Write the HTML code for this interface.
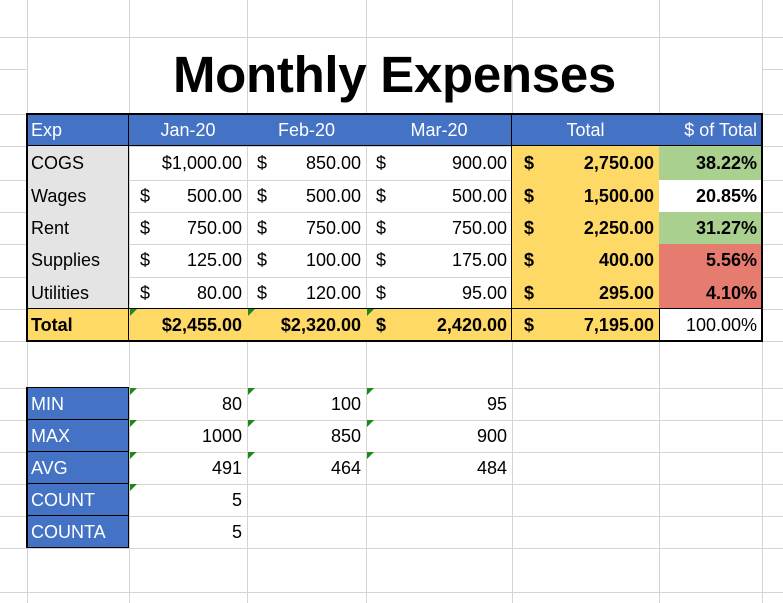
<!DOCTYPE html>
<html><head><meta charset="utf-8"><style>
body{margin:0;width:783px;height:603px;overflow:hidden;background:#fff;font-family:"Liberation Sans",sans-serif;position:relative}
.g{position:absolute;background:#d4d4d4}
.c{position:absolute;box-sizing:border-box;font-size:18px;line-height:32px;white-space:pre;color:#000;overflow:visible}
.r{text-align:right;padding-right:5px}
.l{padding-left:4px}
.b{font-weight:bold}
.w{color:#fff}
.bd{position:absolute;background:#000}
.tri{position:absolute;width:0;height:0;border-top:7px solid #1a8a1a;border-right:7px solid transparent}
</style></head><body>
<div id="grid"></div>
<div class="c b" style="left:27px;top:43px;width:735px;text-align:center;font-size:51px;line-height:64px;letter-spacing:-0.3px">Monthly Expenses</div>
<div id="cells"></div>
<script>
const cols=[27,129,247,366,512,659,762];
const hRows=[37,114,146,180,212,244,277,309,341,388,420,452,484,516,548,592];
const rowNames=["COGS","Wages","Rent","Supplies","Utilities"];
const jan=[1000,500,750,125,80];
const feb=[850,500,750,100,120];
const mar=[900,500,750,175,95];
const pctColors=["#a9d08e","#ffffff","#a9d08e","#e67c70","#e67c70"];
const statNames=["MIN","MAX","AVG","COUNT","COUNTA"];
const statJan=["80","1000","491","5","5"];
const statFeb=["100","850","464","",""];
const statMar=["95","900","484","",""];
const grid=document.getElementById('grid');
const cells=document.getElementById('cells');
function line(x,y,w,h){const d=document.createElement('div');d.className='g';d.style.cssText=`left:${x}px;top:${y}px;width:${w}px;height:${h}px`;


grid.appendChild(d);}
cols.forEach(x=>line(x,0,1,603));
hRows.forEach(y=>line(0,y,783,1));
line(0,69,27,1);line(762,69,21,1);
function cell(x,y,w,h,txt,cls,bg,name){const d=document.createElement('div');d.className='c '+cls;d.style.cssText=`left:${x}px;top:${y}px;width:${w}px;height:${h}px;line-height:${h}px;`+(bg?`background:${bg};`:'');d.textContent=txt;


cells.appendChild(d);return d;}
function money(v){return v.toLocaleString('en-US',{minimumFractionDigits:2,maximumFractionDigits:2});}
function dollar(d,off){const s=document.createElement('span');s.textContent="$";s.style.cssText=`position:absolute;left:${off}px;top:0`;


d.appendChild(s);}
const blue="#4472c4",yel="#ffd966",gray="#e4e4e4";
cell(27,114,102,32,"Exp","l w",blue,"header-exp");
cell(129,114,118,32,"Jan-20","w",blue,"header-jan").style.textAlign="center";
cell(247,114,119,32,"Feb-20","w",blue,"header-feb").style.textAlign="center";
cell(366,114,146,32,"Mar-20","w",blue,"header-mar").style.textAlign="center";
cell(512,114,147,32,"Total","w",blue,"header-total").style.textAlign="center";
cell(659,114,103,32,"$ of Total","r w",blue,"header-pct");
const rowY=[146,180,212,244,277,309];
const totals=jan.map((v,i)=>v+feb[i]+mar[i]);
const grand=totals.reduce((a,b)=>a+b,0);
function mcell(x,w,y,h,v,cls,bg,name,off){
  const s=money(v);
  if(s.length<8){const d=cell(x,y,w,h,s,"r "+cls,bg,name);dollar(d,off);return d;}
  return cell(x,y,w,h,"$"+s,"r "+cls,bg,name);}
rowNames.forEach((n,i)=>{
  const y=rowY[i],h=rowY[i+1]-y;
  cell(27,y,102,h,n,"l",gray,"row-label-"+n.toLowerCase());
  mcell(129,118,y,h,jan[i],"","","jan-"+n.toLowerCase(),11);
  mcell(247,119,y,h,feb[i],"","","feb-"+n.toLowerCase(),10);
  const m=cell(366,y,146,h,money(mar[i]),"r","","mar-"+n.toLowerCase());
  dollar(m,10);
  const t=cell(512,y,147,h,money(totals[i]),"r b",yel,"total-"+n.toLowerCase());
  dollar(t,12);
  cell(659,y,103,h,(totals[i]/grand*100).toFixed(2)+"%","r b",pctColors[i],"pct-"+n.toLowerCase());
});
const ty=309,th=32;
cell(27,ty,102,th,"Total","l b",yel,"total-label");
const sJ=jan.reduce((a,b)=>a+b,0),sF=feb.reduce((a,b)=>a+b,0),sM=mar.reduce((a,b)=>a+b,0);
cell(129,ty,118,th,"$"+money(sJ),"r b",yel,"total-jan");
cell(247,ty,119,th,"$"+money(sF),"r b",yel,"total-feb");
const tm=cell(366,ty,146,th,money(sM),"r b",yel,"total-mar");
dollar(tm,10);
const tt=cell(512,ty,147,th,money(grand),"r b",yel,"grand-total");
dollar(tt,12);
cell(659,ty,103,th,"100.00%","r","#fff","total-pct");
const sy=[388,420,452,484,516,548];
statNames.forEach((n,i)=>{
  const y=sy[i],h=sy[i+1]-y;
  cell(27,y,102,h,n,"l w",blue,"stat-"+n.toLowerCase());
  cell(129,y,118,h,statJan[i],"r","","stat-jan-"+n.toLowerCase());
  cell(247,y,119,h,statFeb[i],"r","","stat-feb-"+n.toLowerCase());
  cell(366,y,146,h,statMar[i],"r","","stat-mar-"+n.toLowerCase());
});
function bd(x,y,w,h,name){const d=document.createElement('div');d.className='bd';d.style.cssText=`left:${x}px;top:${y}px;width:${w}px;height:${h}px`;


cells.appendChild(d);}
bd(26,113,737,2,"table-border-top");bd(26,340,737,2,"table-border-bottom");
bd(26,113,2,229,"table-border-left");bd(761,113,2,229,"table-border-right");
bd(128,113,1,229,"border-col1");bd(511,113,1,229,"border-total");bd(659,309,1,32,"border-pct");
bd(27,145,735,1,"header-border");bd(27,308,735,1,"total-row-border");
bd(26,387,2,161,"stats-border-left");bd(128,387,1,161,"stats-border-right");
bd(26,387,103,1,"stats-border-top");bd(26,547,103,1,"stats-border-bottom");
[420,452,484,516].forEach(y=>bd(27,y-1,102,1,"stats-row-border"));
[[129,309],[247,309],[366,309],[129,388],[247,388],[366,388],[129,420],[247,420],[366,420],[129,452],[247,452],[366,452],[129,484]].forEach(p=>{
  const t=document.createElement('div');t.className='tri';t.style.left=(p[0]+1)+'px';t.style.top=(p[1])+'px';
  
  
  cells.appendChild(t);});
</script>
</body></html>
